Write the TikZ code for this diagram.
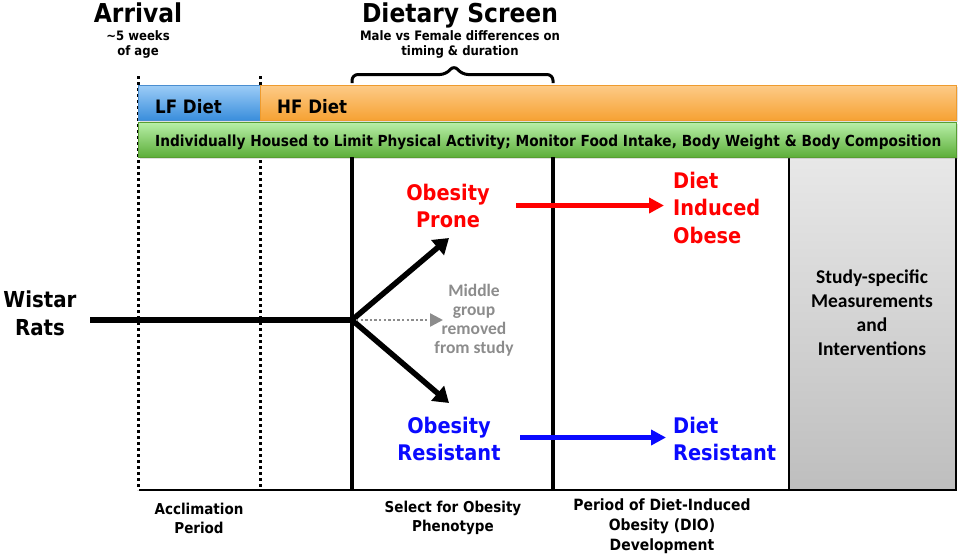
\documentclass[tikz,border=0pt]{standalone}
\usepackage{fontspec}
\newfontfamily\tah[FakeStretch=0.9]{DejaVu Sans}
\newfontfamily\calb{Carlito}
\usetikzlibrary{arrows.meta,shadows}
\newcommand\fsz[2]{\fontsize{#1}{#2}\selectfont}
\definecolor{lfTop}{HTML}{9DCDF7}
\definecolor{lfBot}{HTML}{3A8EDC}
\definecolor{lfEdge}{HTML}{4A8ED0}
\definecolor{hfTop}{HTML}{FDCB88}
\definecolor{hfBot}{HTML}{F6A234}
\definecolor{hfEdge}{HTML}{EE9B2E}
\definecolor{grTop}{HTML}{B9F0A9}
\definecolor{grBot}{HTML}{5DAE3A}
\definecolor{grEdge}{HTML}{579E32}
\definecolor{boxTop}{HTML}{E8E8E8}
\definecolor{boxBot}{HTML}{BEBEBE}
\definecolor{midgray}{HTML}{8C8C8C}
\definecolor{obRed}{HTML}{FF0000}
\definecolor{obBlue}{HTML}{0A0AFF}
\tikzset{
  bar/.style={rectangle, inner sep=0pt, outer sep=0pt, line width=1pt, anchor=north west,
    drop shadow={shadow xshift=1.5pt, shadow yshift=-2pt, opacity=0.25}},
  bartext/.style={inner sep=0pt, anchor=base west, font=\tah\bfseries},
  dotline/.style={line width=3pt, dash pattern=on 3pt off 3pt},
  vline/.style={line width=3.5pt},
  head/.style={font=\tah\bfseries\fsz{26}{28}, inner sep=0pt, anchor=base},
  sub/.style={font=\tah\bfseries\fsz{13}{14.5}, inner sep=0pt, anchor=base, align=center},
  big/.style={font=\tah\bfseries\fsz{21.5}{27}, inner sep=0pt, align=center},
  bottomlbl/.style={font=\tah\bfseries\fsz{15.5}{20}, inner sep=0pt, align=center},
  thickarrow/.style={line width=5.5pt, -{Triangle[length=15pt,width=19pt]}},
}
\begin{document}
\begin{tikzpicture}[x=1pt,y=1pt]
\useasboundingbox (0,0) rectangle (965,-554);

% dotted period separators
\draw[dotline] (138,-76) -- (138,-490);
\draw[dotline] (260,-76) -- (260,-490);

% study-specific box
\node[rectangle, inner sep=0pt, outer sep=0pt, anchor=north west, draw=black, line width=1.5pt,
  top color=boxTop, bottom color=boxBot, minimum width=167, minimum height=333] (studybox) at (789,-157) {};

% bars
\node[bar, draw=lfEdge, top color=lfTop, bottom color=lfBot, minimum width=122, minimum height=35] (lfbar) at (138,-85) {};
\node[bar, draw=hfEdge, top color=hfTop, bottom color=hfBot, minimum width=696, minimum height=35] (hfbar) at (260,-85) {};
\node[bar, draw=grEdge, top color=grTop, bottom color=grBot, minimum width=818, minimum height=35] (grbar) at (138,-122) {};
\node[bartext, font=\tah\bfseries\fsz{18.5}{20}] (lftext) at (155,-113) {LF Diet};
\node[bartext, font=\tah\bfseries\fsz{18.5}{20}] (hftext) at (277,-113) {HF Diet};
\node[bartext, font=\tah\bfseries\fsz{15.25}{17}] (grtext) at (155,-146) {Individually Housed to Limit Physical Activity; Monitor Food Intake, Body Weight \& Body Composition};

% solid separators and bottom line
\draw[vline] (352,-157) -- (352,-490);
\draw[vline] (553,-157) -- (553,-490);
\draw[line width=2.5pt] (139,-490) -- (956,-490);

% headings
\node[head] (arrival) at (138,-22.5) {Arrival};
\node[sub] (arrsub) at (138,-55) {\char"7E 5 weeks\\of age};
\node[head] (screen) at (460,-22.5) {Dietary Screen};
\node[sub] (screensub) at (460,-55) {Male vs Female differences on\\timing \& duration};

% brace
\draw[line width=3pt, rounded corners=6pt] (352,-83) -- (352,-74.5) -- (446,-74.5) -- (454,-65) -- (462,-74.5) -- (553,-74.5) -- (553,-83);

% flow
\node[big, anchor=base, font=\tah\bfseries\fsz{22}{28}] (wistar) at (40,-335) {Wistar\\Rats};
\coordinate (start) at (90,-320);
\coordinate (split) at (352,-320);
\coordinate (upTip) at (449,-238);
\coordinate (downTip) at (449,-403);
\coordinate (midTip) at (443,-320);
\draw[line width=6pt] (start) -- (split);
\draw[thickarrow] (split) -- (upTip);
\draw[thickarrow] (split) -- (downTip);
\draw[midgray, line width=2.4pt, dash pattern=on 2.4pt off 2.2pt, shorten <=4pt, -{Triangle[length=13pt,width=13pt]}] (split) -- (midTip);

\node[font=\calb\bfseries\fsz{17.5}{18.7}, text=midgray, align=center, inner sep=0pt, anchor=base] (middle) at (474,-353) {Middle\\group\\removed\\from study};

\node[big, anchor=base, text=obRed] (prone) at (448,-227) {Obesity\\Prone};
\node[big, anchor=base west, align=left, text=obRed, font=\tah\bfseries\fsz{21.5}{27.5}] (dio) at (673,-243) {Diet\\Induced\\Obese};
\coordinate (redS) at (516,-205.5);
\coordinate (redE) at (664,-205.5);
\draw[obRed, line width=4.5pt, -{Triangle[length=15pt,width=15pt]}] (redS) -- (redE);

\node[big, anchor=base, text=obBlue] (resist) at (449,-460) {Obesity\\Resistant};
\node[big, anchor=base west, align=left, text=obBlue] (dres) at (673,-460) {Diet\\Resistant};
\coordinate (blueS) at (520,-437.5);
\coordinate (blueE) at (666,-437.5);
\draw[obBlue, line width=4.5pt, -{Triangle[length=15pt,width=15pt]}] (blueS) -- (blueE);

\node[font=\calb\bfseries\fsz{19.5}{24}, align=center, inner sep=0pt, anchor=base] (study) at (872,-355) {Study-specific\\Measurements\\and\\Interventions};

% bottom labels
\node[bottomlbl, anchor=base, font=\tah\bfseries\fsz{15}{18.5}] (accl) at (199,-533) {Acclimation\\Period};
\node[bottomlbl, anchor=base, font=\tah\bfseries\fsz{15}{18.5}] (select) at (453,-531) {Select for Obesity\\Phenotype};
\node[bottomlbl, anchor=base] (period) at (662,-550) {Period of Diet-Induced\\Obesity (DIO)\\Development};
\end{tikzpicture}
\end{document}
